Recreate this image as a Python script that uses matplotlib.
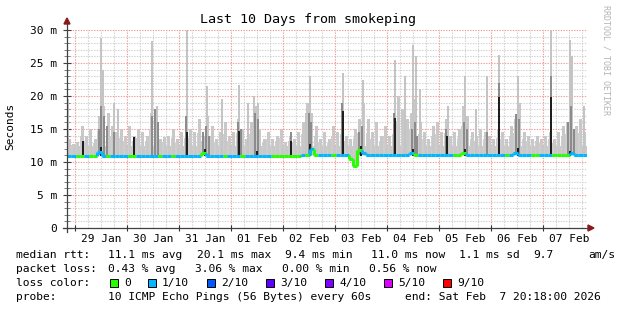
import datetime as dt
import matplotlib
matplotlib.use("Agg")
import matplotlib.pyplot as plt
import matplotlib.dates as mdates
import matplotlib.transforms as mtransforms
from matplotlib.collections import LineCollection
from matplotlib.patches import Rectangle, Polygon

# ---------------- data ----------------
START = dt.datetime(2026, 1, 28, 20, 18)
END = dt.datetime(2026, 2, 7, 20, 18)
BIN_HOURS = 2  # one value per 2 hours

# upper edge of the light smoke (ms), one per 2h bin
smoke_top = [13.5, 12.8, 13.0, 15.5, 14.0, 15.0, 13.5, 17.0, 18.5, 17.5,
             15.5, 14.5, 15.0, 14.0, 15.5, 14.0, 15.0, 14.5, 14.0, 17.5,
             16.5, 13.5, 13.8, 14.0, 15.0, 13.5, 14.5, 15.0, 15.0, 14.5,
             16.5, 14.0, 17.0, 15.5, 13.5, 14.5, 16.0, 14.0, 14.5, 16.5,
             15.0, 13.5, 16.0, 18.5, 15.0, 13.5, 14.5, 13.5, 14.0, 15.0,
             13.0, 14.0, 13.5, 14.5, 16.0, 19.0, 17.5, 15.5, 13.5, 14.5,
             13.5, 15.5, 14.5, 16.0, 14.0, 13.5, 15.0, 16.5, 19.0, 16.5,
             14.5, 16.0, 14.0, 15.5, 14.0, 16.0, 20.0, 18.0, 16.5, 17.5,
             19.5, 16.0, 14.5, 13.5, 15.5, 16.0, 14.5, 16.5, 14.0, 14.5,
             15.0, 18.5, 17.0, 14.5, 14.0, 15.0, 14.5, 14.0, 13.5, 15.0,
             14.5, 13.5, 15.5, 16.5, 19.0, 14.5, 14.0, 13.5, 14.0, 13.5,
             14.0, 14.5, 13.5, 14.5, 15.5, 16.0, 20.0, 15.5, 16.5, 14.5]
smoke_floor_top = 12.4  # solid part of the smoke (ms)

# median rtt (ms), one per 2h bin
median = [10.85] * 7 + [11.5] + [10.85] * 23 + [11.3] + [10.85] * 22 + \
         [11.0, 11.0, 11.9, 11.0, 11.0, 11.0, 11.0, 11.0, 11.0, 11.0, 11.0,
          10.4, 9.4, 11.8, 11.3, 11.0, 11.0, 11.0, 11.0, 11.0, 11.0, 11.0,
          11.0, 11.0, 11.0, 11.3] + [11.0] * 11 + [11.3] + [11.0] * 11 + \
         [11.4] + [11.0] * 12 + [11.3] + [11.0] * 3

# loss per bin: 0 -> 0/10, 1 -> 1/10
green_bins = [2, 3, 5, 6, 9, 14, 15, 21, 24, 31, 36, 40, 47, 48, 49, 50, 51,
              52, 53, 55, 57, 61, 65, 66, 67, 80, 89, 90, 91, 101, 107, 108,
              112, 113, 114, 115]
loss = [0 if i in green_bins else 1 for i in range(120)]

# narrow tall light smoke spikes: hours since start, top (ms)
spike_hours = [0.5, 15.7, 16.6, 21.7, 23.5, 39.2, 41.5, 55.4, 64.6, 71.5,
               79.4, 83.5, 86.3, 88.2, 110.3, 112.2, 127.4, 136.6, 151.4,
               156.0, 159.7, 161.1, 162.9, 175.8, 183.7, 188.8, 193.8, 199.4,
               208.2, 223.4, 232.2, 233.1, 238.6]
spike_tops = [19.5, 28.8, 24.0, 19.0, 18.0, 28.3, 18.5, 30.5, 21.5, 19.5,
              21.7, 19.0, 20.0, 19.0, 17.5, 23.0, 23.5, 22.5, 25.5,
              23.0, 27.8, 26.0, 21.0, 18.5, 23.0, 18.0, 23.0, 26.2,
              23.0, 30.5, 28.5, 26.0, 18.5]

# darker smoke
dark_hours = [14.8, 15.7, 17.1, 18.5, 21.7, 39.2, 40.6, 42.0, 54.9, 62.8,
              64.2, 65.5, 78.9, 80.3, 86.8, 88.2, 103.4, 111.7, 112.6, 126.9,
              134.8, 136.2, 150.9, 159.2, 160.6, 161.5, 174.9, 183.2, 184.6,
              193.8, 199.4, 207.2, 208.6, 223.4, 231.2, 232.6, 234.0]
dark_tops = [15.0, 18.5, 17.0, 15.5, 14.5, 17.0, 18.0, 16.0, 17.0, 14.5,
             15.5, 14.0, 16.0, 15.0, 17.5, 16.5, 14.5, 17.5, 16.0, 19.0,
             14.5, 15.5, 17.5, 15.0, 16.0, 14.0, 15.0, 16.0, 15.0,
             14.5, 22.0, 17.3, 16.5, 23.0, 16.0, 18.5, 15.0]

# black core spikes
black_hours = [7.4, 15.7, 30.9, 55.4, 63.7, 79.4, 87.7, 103.4, 112.2, 127.4,
               135.7, 151.4, 159.7, 175.4, 183.7, 199.4, 208.2, 223.4, 232.2]
black_tops = [13.3, 12.3, 13.9, 14.6, 12.0, 14.8, 11.8, 13.3, 12.8, 17.9,
              12.6, 16.7, 12.0, 14.1, 12.0, 19.9, 12.2, 19.9, 11.8]

loss_labels = ["0", "1/10", "2/10", "3/10", "4/10", "5/10", "9/10"]
loss_colors = ["#26ff00", "#00b8ff", "#0059ff", "#5e00ff", "#7e00ff", "#dd00ff", "#ff0000"]

# ---------------- figure ----------------
W, H = 617, 310
fig = plt.figure(figsize=(W / 100, H / 100), dpi=100)
fig.patch.set_facecolor("white")
MONO = "DejaVu Sans Mono"
plt.rcParams["font.family"] = MONO

ax = fig.add_axes([67 / W, (H - 228) / H, 520 / W, (228 - 30) / H])
ax.set_facecolor("white")

t0 = mdates.date2num(START)
t1 = mdates.date2num(END)
ax.set_xlim(t0, t1)
ax.set_ylim(0, 30)

def hnum(h):
    return t0 + h / 24.0

px_day = (t1 - t0) / 520.0  # one pixel in days

# grid
day0 = dt.datetime(2026, 1, 29)
for k in range(0, 40):
    d = day0 + dt.timedelta(hours=6 * k)
    if d > END:
        break
    x = mdates.date2num(d)
    if k % 4 == 0:
        ax.axvline(x, color="#f29a9a", lw=0.8, ls=(0, (1.2, 1.2)), zorder=1)
    else:
        ax.axvline(x, color="#cfcfcf", lw=0.8, ls=(0, (1.2, 1.2)), zorder=0.9)
for v in range(1, 31):
    if v % 5 == 0:
        ax.axhline(v, color="#f29a9a", lw=0.8, ls=(0, (1.2, 1.2)), zorder=1)
    else:
        ax.axhline(v, color="#cfcfcf", lw=0.8, ls=(0, (1.2, 1.2)), zorder=0.9)

# light smoke: solid lower part + textured bars
edges = [hnum(i * BIN_HOURS) for i in range(len(smoke_top) + 1)]
bottoms = [m - 0.3 for m in median]
floor = [min(smoke_floor_top, s) for s in smoke_top]
ax.fill_between(edges, bottoms + [bottoms[-1]], floor + [floor[-1]],
                step="post", color="#c8c8c8", lw=0, zorder=2)
centers = [hnum((i + 0.5) * BIN_HOURS) for i in range(len(smoke_top))]
ax.bar(centers, [s - 11 for s in smoke_top], bottom=11, width=3.0 * px_day,
       color="#c8c8c8", lw=0, zorder=2)
ax.bar([hnum((i + 0.15) * BIN_HOURS) for i in range(len(smoke_top))],
       [max(0.0, (s + f) / 2 - 11) for s, f in zip(smoke_top, floor)], bottom=11,
       width=1.2 * px_day, color="#cdcdcd", lw=0, zorder=2)
# spikes
ax.bar([hnum(h) for h in spike_hours], [t - 11 for t in spike_tops],
       bottom=11, width=2 * px_day, color="#c4c4c4", lw=0, zorder=2.1)
ax.bar([hnum(h) for h in dark_hours], [t - 11 for t in dark_tops],
       bottom=11, width=2.5 * px_day, color="#8c8c8c", lw=0, zorder=2.2)
ax.bar([hnum(h) for h in black_hours], [t - 11 for t in black_tops],
       bottom=10.9, width=2 * px_day, color="#1e1e1e", lw=0, zorder=2.3)

# median line coloured by loss
segs, cols = [], []
for i, m in enumerate(median):
    xa, xb = edges[i], edges[i + 1]
    segs.append([(xa, m), (xb, m)])
    cols.append(loss_colors[loss[i]])
    if i > 0 and median[i - 1] != m:
        segs.append([(xa, median[i - 1]), (xa, m)])
        cols.append(loss_colors[loss[i]])
lc = LineCollection(segs, colors=cols, linewidths=2.2, capstyle="butt", zorder=3)
ax.add_collection(lc)

# axes / ticks
for s in ax.spines.values():
    s.set_visible(False)
noons = [mdates.date2num(day0 + dt.timedelta(days=k, hours=12)) for k in range(10)]
ax.set_xticks(noons)
ax.set_xticklabels([(day0 + dt.timedelta(days=k)).strftime("%d %b") for k in range(10)],
                   fontsize=8, family=MONO)
ax.tick_params(axis="x", which="major", length=0, pad=4)
ax.set_xticks([mdates.date2num(day0 + dt.timedelta(days=k)) for k in range(10)], minor=True)
ax.tick_params(axis="x", which="minor", length=4, direction="inout", color="#303030", width=0.8)

ax.set_yticks(range(0, 31, 5))
ax.set_yticklabels(["0"] + ["%d m" % v for v in range(5, 31, 5)], fontsize=8, family=MONO)
ax.set_yticks(range(0, 31), minor=True)
ax.tick_params(axis="y", which="major", length=6, direction="inout", color="#404040",
               width=0.8, pad=4)
ax.tick_params(axis="y", which="minor", length=4, direction="inout", color="#808080",
               width=0.7)

# pixel-coordinate transform for figure decorations
pix = mtransforms.Affine2D().scale(1 / W, -1 / H).translate(0, 1) + fig.transFigure

fig.add_artist(plt.Line2D([67, 67], [232, 24], color="#404040", lw=0.9, transform=pix))
fig.add_artist(plt.Line2D([63, 588], [228, 228], color="#404040", lw=0.9, transform=pix))
fig.add_artist(Polygon([(64, 24), (70, 24), (67, 18)], closed=True, color="#8b1a1a",
                       transform=pix))
fig.add_artist(Polygon([(588, 225), (588, 231), (594, 228)], closed=True, color="#8b1a1a",
                       transform=pix))

# texts
fig.text(308 / W, 1 - 19 / H, "Last 10 Days from smokeping", ha="center", va="center",
         fontsize=9.6, family=MONO)
fig.text(10 / W, 1 - 126 / H, "Seconds", rotation=90, ha="center", va="center",
         fontsize=8, family=MONO)
fig.text(606 / W, 1 - 5 / H, "RRDTOOL / TOBI OETIKER", rotation=270, ha="center",
         va="top", fontsize=6, color="#b4b4b4", family=MONO)

def t(x, y, s, size=8.1):
    fig.text(x / W, 1 - y / H, s, ha="left", va="center", fontsize=size, family=MONO)

r1, r2, r3, r4 = 255, 269, 283, 297
t(16, r1, "median rtt:")
t(108, r1, "11.1 ms avg")
t(197, r1, "20.1 ms max")
t(285, r1, "9.4 ms min")
t(371, r1, "11.0 ms now")
t(459, r1, "1.1 ms sd")
t(533, r1, "9.7")
t(588, r1, "am/s")

t(16, r2, "packet loss:")
t(108, r2, "0.43 % avg")
t(195, r2, "3.06 % max")
t(282, r2, "0.00 % min")
t(369, r2, "0.56 % now")

t(16, r3, "loss color:")
box_x = [110, 148, 207, 266, 325, 384, 443]
for bx, lab, col in zip(box_x, loss_labels, loss_colors):
    fig.add_artist(Rectangle((bx, r3 + 4), 8, -8, facecolor=col, edgecolor="black",
                             lw=0.7, transform=pix))
    t(bx + 14, r3, lab)

t(16, r4, "probe:")
t(108, r4, "10 ICMP Echo Pings (56 Bytes) every 60s")
t(405, r4, "end: Sat Feb  7 20:18:00 2026")

fig.savefig("out.png", dpi=100, facecolor="white")
